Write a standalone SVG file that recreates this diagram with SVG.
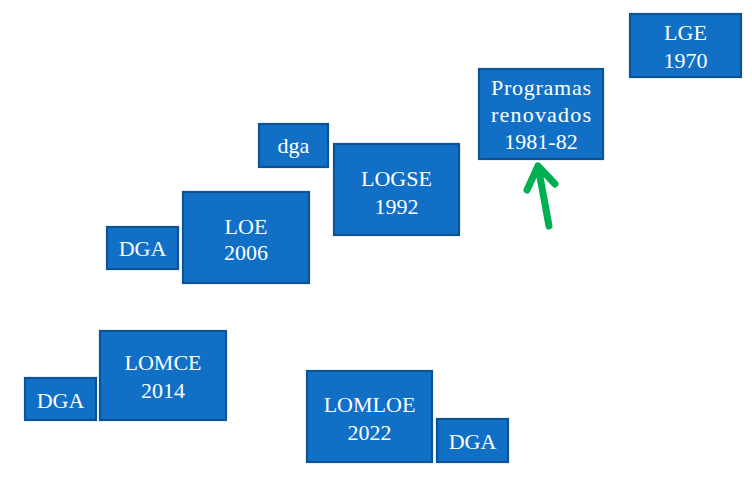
<svg xmlns="http://www.w3.org/2000/svg" width="752" height="477" viewBox="0 0 752 477">
<style>
.box{fill:#1170C6;stroke:#0B5394;stroke-width:2.2}
.t{font-family:"Liberation Serif","DejaVu Serif",serif;font-size:22px;fill:#ffffff;text-anchor:middle}
.arr{fill:none;stroke:#00B050;stroke-width:7;stroke-linecap:round;stroke-linejoin:round}
</style>
<rect width="752" height="477" fill="#ffffff"/>
<g id="lge"><rect class="box" x="630" y="14" width="111" height="63"/><text class="t" x="685.5" y="40">LGE</text><text class="t" x="685.5" y="68">1970</text></g>
<g id="programas"><rect class="box" x="479" y="69" width="124" height="90"/><text class="t" x="541" y="95" textLength="100">Programas</text><text class="t" x="541" y="122" textLength="100">renovados</text><text class="t" x="541" y="149">1981-82</text></g>
<g id="dga1"><rect class="box" x="259" y="124" width="69" height="43"/><text class="t" x="293.5" y="153">dga</text></g>
<g id="logse"><rect class="box" x="334" y="144" width="125" height="91"/><text class="t" x="396.5" y="186">LOGSE</text><text class="t" x="396.5" y="214">1992</text></g>
<g id="dga2"><rect class="box" x="107" y="227" width="71" height="42"/><text class="t" x="142.5" y="256">DGA</text></g>
<g id="loe"><rect class="box" x="183" y="192" width="126" height="91"/><text class="t" x="246" y="234">LOE</text><text class="t" x="246" y="260">2006</text></g>
<g id="dga3"><rect class="box" x="25" y="378" width="71" height="42"/><text class="t" x="60.5" y="408">DGA</text></g>
<g id="lomce"><rect class="box" x="100" y="331" width="126" height="89"/><text class="t" x="163" y="370">LOMCE</text><text class="t" x="163" y="398">2014</text></g>
<g id="lomloe"><rect class="box" x="307" y="371" width="125" height="91"/><text class="t" x="369.5" y="412">LOMLOE</text><text class="t" x="369.5" y="440">2022</text></g>
<g id="dga4"><rect class="box" x="437" y="419" width="71" height="43"/><text class="t" x="472.5" y="449">DGA</text></g>
<g id="connectors"><path class="arr" d="M549,226 L538,166 M527,190 L538,166 L555,184"/></g>
</svg>
